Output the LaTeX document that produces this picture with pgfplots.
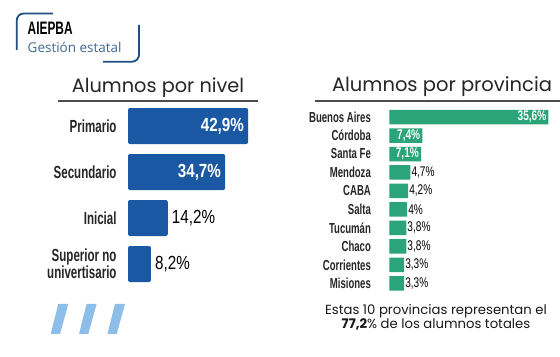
\documentclass[border=0pt]{standalone}
\usepackage{fontspec}
\usepackage{pgfplots}
\pgfplotsset{compat=1.18}
\setmainfont{Poppins}
\newfontfamily\condA[FakeStretch=0.66]{Liberation Sans}
\newfontfamily\condB[FakeStretch=0.8]{Liberation Sans}
\newfontfamily\condC[FakeStretch=0.72]{Liberation Sans}
\newfontfamily\logofont{Open Sans}
\definecolor{barblue}{HTML}{1A58A4}
\definecolor{bargreen}{HTML}{2AA478}
\definecolor{logoblue}{HTML}{1F4F80}
\definecolor{slash}{HTML}{8DBDE9}
\begin{document}
\begin{tikzpicture}
\useasboundingbox (0,0) rectangle (560bp,357bp);
\fill[white] (0,0) rectangle (560bp,357bp);
% ---------- left chart ----------
\begin{axis}[
  at={(128bp,70bp)}, anchor=south west,
  scale only axis, width=140bp, height=184bp,
  xbar, bar width=36bp, bar shift=0pt,
  xmin=0, xmax=50, ymin=-0.5, ymax=3.5, y dir=reverse,
  axis line style={draw=none}, tick style={draw=none},
  xtick=\empty, ytick={0,1,2,3},
  yticklabels={Primario,Secundario,Inicial,{Superior no\\univertisario}},
  yticklabel style={font=\condA\bfseries\fontsize{17.5bp}{17bp}\selectfont, text=black!85, align=right, inner sep=0pt, xshift=-7bp},
  clip=false,
  point meta=x,
  /pgf/number format/assume math mode=true,
  nodes near coords={\pgfmathprintnumber[use comma,fixed,precision=1,assume math mode=true]{\pgfplotspointmeta}\%},
]
\addplot[fill=barblue, draw=none, rounded corners=2bp,
  every node near coord/.append style={anchor=east, text=white, font=\condB\bfseries\fontsize{19bp}{19bp}\selectfont, inner sep=0pt, xshift=-4bp}]
  coordinates {(42.9,0) (34.7,1)};
\addplot[fill=barblue, draw=none, rounded corners=2bp,
  every node near coord/.append style={anchor=west, text=black, font=\condB\fontsize{19bp}{19bp}\selectfont, inner sep=0pt, xshift=4bp}]
  coordinates {(14.2,2) (8.2,3)};
\end{axis}
% ---------- right chart ----------
\begin{axis}[
  at={(389.3bp,64.4bp)}, anchor=south west,
  scale only axis, width=169.9bp, height=184.8bp,
  xbar, bar width=14.5bp, bar shift=0pt,
  xmin=0, xmax=38, ymin=-0.5, ymax=9.5, y dir=reverse,
  axis line style={draw=none}, tick style={draw=none},
  xtick=\empty, ytick={0,...,9},
  yticklabels={Buenos Aires,Córdoba,Santa Fe,Mendoza,CABA,Salta,Tucumán,Chaco,Corrientes,Misiones},
  yticklabel style={font=\condA\bfseries\fontsize{14.5bp}{14bp}\selectfont, text=black!85, inner sep=0pt, xshift=-14bp},
  clip=false,
  point meta=x,
  /pgf/number format/assume math mode=true,
  nodes near coords={\pgfmathprintnumber[use comma,fixed,precision=1,assume math mode=true]{\pgfplotspointmeta}\%},
]
\addplot[fill=bargreen, draw=none,
  every node near coord/.append style={anchor=east, text=white, font=\condC\bfseries\fontsize{14bp}{14bp}\selectfont, inner sep=0pt, xshift=-2bp}]
  coordinates {(35.6,0) (7.4,1) (7.1,2)};
\addplot[fill=bargreen, draw=none,
  every node near coord/.append style={anchor=west, text=black, font=\condC\fontsize{14bp}{14bp}\selectfont, inner sep=0pt, xshift=1bp}]
  coordinates {(4.7,3) (4.2,4) (4,5) (3.8,6) (3.8,7) (3.3,8) (3.3,9)};
\end{axis}
% ---------- decorations (image pixel coordinates) ----------
\begin{scope}[x=1bp, y=-1bp, yshift=357bp]
  \node[font=\fontsize{19.3bp}{24bp}\selectfont, text=black!85] at (158,88) {Alumnos por nivel};
  \draw[black!70, line width=1.2bp] (58,101) -- (258,101);
  \node[font=\fontsize{19.5bp}{24bp}\selectfont, text=black!85] at (442,87) {Alumnos por provincia};
  \draw[black!70, line width=1.2bp] (315,101) -- (560,101);
  \node[align=center, font=\fontsize{13.2bp}{12.5bp}\selectfont, text=black!90] at (436,317)
    {Estas 10 provincias representan el\\\textbf{77,2}\% de los alumnos totales};
  % logo
  \node[anchor=west, inner sep=0pt, font=\condA\bfseries\fontsize{18bp}{18bp}\selectfont] at (27.5,28.5) {AIEPBA};
  \node[anchor=west, inner sep=0pt, font=\logofont\fontsize{13.5bp}{14bp}\selectfont, text=logoblue!85] at (27.5,47) {Gestión estatal};
  \draw[logoblue, line width=1.8bp, rounded corners=7bp] (16.7,50) -- (16.7,13.5) -- (53,13.5);
  \draw[logoblue, line width=1.8bp, rounded corners=7bp] (139,25) -- (139,61.7) -- (103,61.7);
  % slashes
  \foreach \s in {0,28.3,56.7}{
    \fill[slash] ({58.3+\s},304) -- ({68.3+\s},304) -- ({60+\s},334) -- ({50.7+\s},334) -- cycle;
  }
\end{scope}
\end{tikzpicture}
\end{document}
